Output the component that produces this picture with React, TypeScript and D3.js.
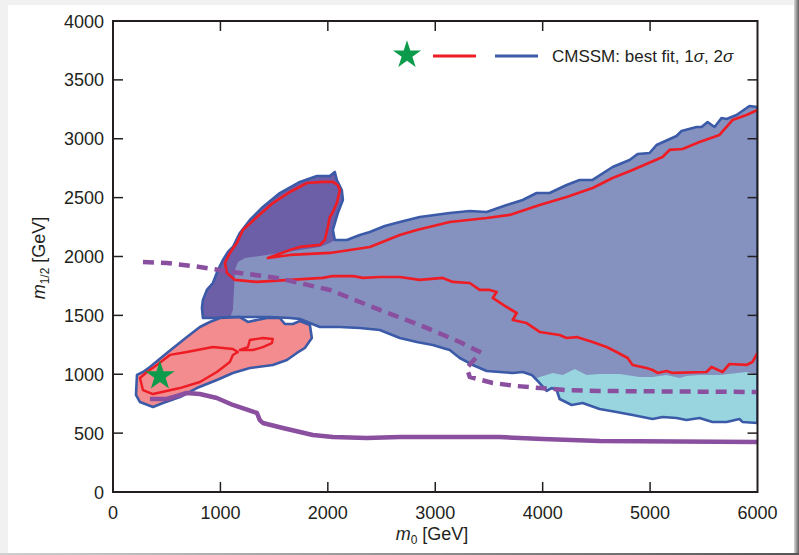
import React from "react";
import * as d3 from "d3";

type P = [number, number];

const xTicks = [0, 1000, 2000, 3000, 4000, 5000, 6000];
const yTicks = [0, 500, 1000, 1500, 2000, 2500, 3000, 3500, 4000];

// 2-sigma (blue outline) main region
const region2sigma: P[] = [
  [837,1478],[828,1563],[837,1631],[874,1716],[930,1775],[977,1885],[1023,1970],[1070,2038],[1116,2081],[1181,2200],[1274,2310],[1395,2421],[1553,2539],[1740,2633],[1898,2684],[2019,2684],[2065,2718],[2084,2650],[2130,2565],[2140,2480],[2093,2370],[2047,2225],[2065,2140],[2177,2140],[2298,2183],[2391,2208],[2530,2259],[2670,2293],[2856,2336],[3135,2370],[3321,2386],[3479,2378],[3665,2437],[3814,2480],[3944,2539],[4065,2539],[4223,2607],[4344,2650],[4465,2650],[4651,2760],[4809,2820],[4884,2871],[4995,2879],[5060,2947],[5246,3023],[5293,3066],[5432,3100],[5479,3100],[5535,3142],[5600,3100],[5665,3176],[5712,3168],[5805,3202],[5925,3278],[6000,3270],
  [6000,586],[5860,595],[5832,620],[5712,595],[5581,595],[5460,628],[5339,611],[5246,628],[5116,637],[5023,620],[4837,654],[4688,679],[4530,705],[4372,756],[4270,739],[4158,790],[4130,866],[4084,883],[4037,858],[3963,934],[3898,994],[3814,1019],[3721,1011],[3600,1019],[3479,1028],[3349,1079],[3228,1138],[3135,1206],[3070,1223],[2977,1248],[2828,1274],[2670,1308],[2484,1376],[2298,1393],[2112,1401],[1926,1401],[1833,1435],[1740,1469],[1647,1478],[1460,1486],[1274,1486],[1088,1486],[949,1478],[837,1478]
];

const darkLobe: P[] = [
  [837,1478],[828,1563],[837,1631],[874,1716],[930,1775],[977,1885],[1023,1970],[1070,2038],[1116,2081],[1181,2200],[1274,2310],[1395,2421],[1553,2539],[1740,2633],[1898,2684],[2019,2684],[2065,2718],[2084,2650],[2130,2565],[2140,2480],[2093,2370],[2047,2225],[2065,2140],
  [2019,2115],[1926,2081],[1740,2055],[1553,2030],[1367,2004],[1228,1987],[1163,1953],[1135,1885],[1126,1716],[1116,1546],[1088,1478]
];

const cyanBand: P[] = [
  [3944,968],[4093,1011],[4186,994],[4298,1045],[4409,994],[4530,1002],[4716,1002],[4902,977],[5023,977],[5153,994],[5274,968],[5339,985],[5460,994],[5646,994],[5897,1019],[6000,994],
  [6000,586],[5860,595],[5832,620],[5712,595],[5581,595],[5460,628],[5339,611],[5246,628],[5116,637],[5023,620],[4837,654],[4688,679],[4530,705],[4372,756],[4270,739],[4158,790],[4130,866],[4084,883],[4037,858],[3963,934]
];

const pinkRegion: P[] = [
  [995,1478],[902,1444],[809,1401],[688,1316],[502,1181],[344,1062],[279,1019],[223,994],[214,824],[251,764],[372,722],[465,756],[623,807],[781,883],[967,951],[1116,1011],[1274,1053],[1488,1079],[1619,1121],[1712,1181],[1786,1223],[1851,1308],[1833,1418],[1740,1452],[1674,1427],[1600,1427],[1553,1478],[1433,1478],[1340,1461],[1256,1444],[1181,1486]
];

const red1sigmaMain: P[] = [
  [6000,1181],[5953,1104],[5897,1079],[5739,1087],[5674,1019],[5572,1062],[5525,1019],[5209,1011],[5153,1028],[5070,1011],[5023,1036],[4967,1053],[4837,1079],[4791,1138],[4688,1189],[4595,1231],[4465,1274],[4316,1316],[4223,1308],[4158,1333],[3972,1359],[3851,1435],[3721,1461],[3758,1520],[3665,1571],[3535,1648],[3572,1699],[3507,1716],[3414,1716],[3321,1775],[3163,1784],[3070,1818],[2856,1801],[2670,1826],[2484,1826],[2326,1818],[2233,1834],[2047,1834],[1953,1818],[1647,1801],[1340,1784],[1135,1801],[1060,1860],[1042,1945],[1088,2030],[1153,2115],[1209,2225],[1340,2336],[1488,2454],[1647,2548],[1805,2624],[1953,2633],[2047,2633],[2093,2607],[2112,2565],[2084,2454],[2047,2378],[2019,2336],[2000,2251],[1972,2140],[1926,2098],[1740,2081],[1647,2055],[1442,1987],
  [1647,2013],[2019,2030],[2391,2081],[2670,2183],[2828,2225],[3135,2293],[3479,2327],[3693,2353],[3972,2437],[4223,2505],[4465,2582],[4651,2667],[4837,2735],[5116,2845],[5181,2905],[5302,2913],[5460,2973],[5646,3032],[5767,3159],[5897,3202],[6000,3244]
];

const red1sigmaPink: P[] = [
  [251,968],[279,866],[372,832],[623,883],[809,934],[967,1019],[1088,1104],[1116,1164],[1163,1189],[1116,1214],[930,1231],[688,1189],[530,1164],[409,1079],[316,1019]
];

const red1sigmaIsland: P[] = [
  [1181,1206],[1256,1231],[1274,1291],[1395,1308],[1488,1299],[1479,1265],[1395,1231],[1302,1206]
];

const purpleSolid: P[] = [
  [344,790],[502,790],[688,841],[809,832],[967,798],[1116,739],[1340,671],[1367,611],[1395,586],[1581,544],[1860,484],[2047,467],[2363,459],[2670,467],[3600,467],[4000,450],[4530,433],[6000,425]
];

const purpleDashedA: P[] = [
  [279,1953],[502,1945],[809,1911],[1116,1868],[1526,1818],[2019,1716],[2484,1546],[2856,1418],[3228,1274],[3433,1181]
];

const purpleDashedB: P[] = [
  [3377,1138],[3293,1053],[3321,977],[3535,926],[3758,900],[3972,883],[4223,866],[4530,858],[6000,849]
];

const bestFit: P = [437, 985];

const legendLabel = "CMSSM: best fit, 1";

const X0 = 113, X1 = 757.5, Y0 = 492, Y1 = 21;

export default function App() {
  const x = d3.scaleLinear().domain([0, 6000]).range([X0, X1]);
  const y = d3.scaleLinear().domain([0, 4000]).range([Y0, Y1]);
  const line = d3.line<P>().x(d => x(d[0])).y(d => y(d[1]));
  const closed = d3.line<P>().x(d => x(d[0])).y(d => y(d[1])).curve(d3.curveLinearClosed);
  const star = d3.symbol().type(d3.symbolStar);
  const font = "'Liberation Sans', Arial, Helvetica, sans-serif";
  const axisCol = "#231f20";
  const blue = "#3b5aa8";
  const red = "#ee1c25";
  const purple = "#8a4f9f";
  const tl = 10;

  return (
    <div style={{ position: "absolute", left: 0, top: 0 }}>
      <svg width={799} height={555} style={{ display: "block" }}>
        <defs>
          <linearGradient id="rs" x1="0" x2="1" y1="0" y2="0">
            <stop offset="0" stopColor="#d8d8d8" />
            <stop offset="1" stopColor="#5e5e5e" />
          </linearGradient>
          <linearGradient id="bs" x1="0" x2="1" y1="0" y2="0">
            <stop offset="0" stopColor="#cfcfcf" />
            <stop offset="1" stopColor="#555" />
          </linearGradient>
          <clipPath id="plotclip">
            <rect x={X0} y={Y1} width={X1 - X0} height={Y0 - Y1} />
          </clipPath>
        </defs>
        <rect x={0} y={0} width={799} height={555} fill="#f1f1f1" />
        <rect x={794} y={0} width={5} height={555} fill="url(#rs)" />
        <rect x={0} y={553} width={799} height={2} fill="url(#bs)" />
        <rect x={8} y={5} width={786} height={548} fill="#ffffff" />

        <g clipPath="url(#plotclip)">
          <path d={closed(region2sigma) || ""} fill="#8592bf" />
          <path d={closed(darkLobe) || ""} fill="#6c5ea7" />
          <path d={closed(cyanBand) || ""} fill="#98d5df" />
          <path d={closed(pinkRegion) || ""} fill="#f28c8e" stroke={blue} strokeWidth={2.6} strokeLinejoin="round" />
          <path d={closed(region2sigma) || ""} fill="none" stroke={blue} strokeWidth={2.6} strokeLinejoin="round" />
          <path d={line(red1sigmaMain) || ""} fill="none" stroke={red} strokeWidth={2.7} strokeLinejoin="round" />
          <path d={closed(red1sigmaPink) || ""} fill="none" stroke={red} strokeWidth={2.4} strokeLinejoin="round" />
          <path d={closed(red1sigmaIsland) || ""} fill="none" stroke={red} strokeWidth={2.4} strokeLinejoin="round" />
          <path d={line(purpleSolid) || ""} fill="none" stroke={purple} strokeWidth={4.5} strokeLinejoin="round" />
          <path d={line(purpleDashedA) || ""} fill="none" stroke={purple} strokeWidth={4.5} strokeDasharray="11,7" />
          <path d={line(purpleDashedB) || ""} fill="none" stroke={purple} strokeWidth={4.5} strokeDasharray="11,7" />
          <path d={star.size(270)() || ""} transform={`translate(${x(bestFit[0])},${y(bestFit[1])})`} fill="#0c9b4a" />
        </g>

        {/* frame */}
        <rect x={X0} y={Y1} width={X1 - X0} height={Y0 - Y1} fill="none" stroke={axisCol} strokeWidth={2} />
        {xTicks.slice(1, -1).map(t => (
          <g key={"xt" + t} stroke={axisCol} strokeWidth={1.5}>
            <line x1={x(t)} x2={x(t)} y1={Y0} y2={Y0 - tl} />
            <line x1={x(t)} x2={x(t)} y1={Y1} y2={Y1 + tl} />
          </g>
        ))}
        {yTicks.slice(1, -1).map(t => (
          <g key={"yt" + t} stroke={axisCol} strokeWidth={1.5}>
            <line x1={X0} x2={X0 + tl} y1={y(t)} y2={y(t)} />
            <line x1={X1} x2={X1 - tl} y1={y(t)} y2={y(t)} />
          </g>
        ))}
        {xTicks.map(t => (
          <text key={"xl" + t} x={x(t)} y={519} textAnchor="middle" fontFamily={font} fontSize={18} fill={axisCol}>{t}</text>
        ))}
        {yTicks.map(t => (
          <text key={"yl" + t} x={104} y={y(t) + 6.5} textAnchor="end" fontFamily={font} fontSize={18} fill={axisCol}>{t}</text>
        ))}
        <text x={432} y={540} textAnchor="middle" fontFamily={font} fontSize={18} fill={axisCol}>
          <tspan fontStyle="italic">m</tspan><tspan fontSize={12} dy={4}>0</tspan><tspan dy={-4}> [GeV]</tspan>
        </text>
        <text transform="rotate(-90,45,258)" x={45} y={258} textAnchor="middle" fontFamily={font} fontSize={18} fill={axisCol}>
          <tspan fontStyle="italic">m</tspan><tspan fontSize={12} dy={4}>1/2</tspan><tspan dy={-4}> [GeV]</tspan>
        </text>

        {/* legend */}
        <path d={star.size(245)() || ""} transform="translate(407,55)" fill="#0c9b4a" />
        <line x1={433} x2={476} y1={56} y2={56} stroke={red} strokeWidth={3} />
        <line x1={495} x2={538} y1={56} y2={56} stroke={blue} strokeWidth={3} />
        <text x={552} y={62} fontFamily={font} fontSize={17} fill={axisCol}>
          {legendLabel}<tspan fontStyle="italic">σ</tspan>, 2<tspan fontStyle="italic">σ</tspan>
        </text>
      </svg>
    </div>
  );
}
